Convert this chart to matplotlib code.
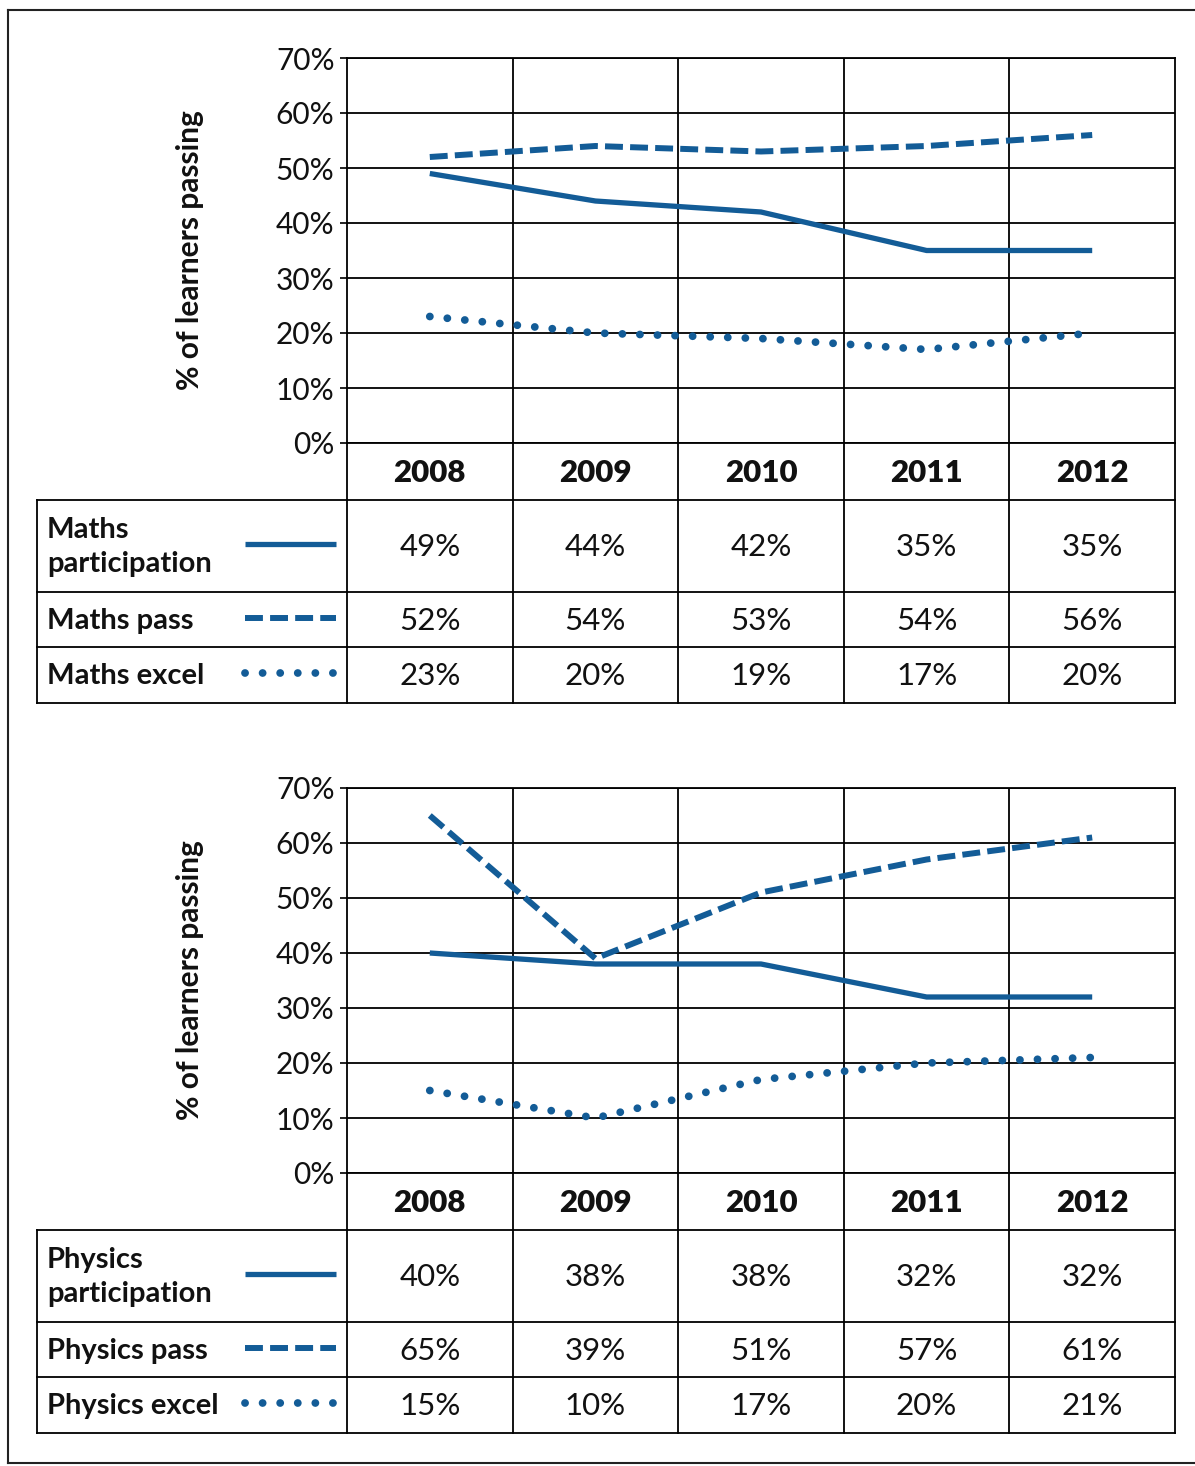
import matplotlib
matplotlib.use('Agg')
import matplotlib.pyplot as plt

# ---------------- data ----------------
years = ['2008', '2009', '2010', '2011', '2012']
y_ticks = [0, 10, 20, 30, 40, 50, 60, 70]

maths_labels = ['Maths\nparticipation', 'Maths pass', 'Maths excel']
maths_participation = [49, 44, 42, 35, 35]
maths_pass = [52, 54, 53, 54, 56]
maths_excel = [23, 20, 19, 17, 20]

physics_labels = ['Physics\nparticipation', 'Physics pass', 'Physics excel']
physics_participation = [40, 38, 38, 32, 32]
physics_pass = [65, 39, 51, 57, 61]
physics_excel = [15, 10, 17, 20, 21]

y_label = '% of learners passing'

# ---------------- style ----------------
W, H = 1195, 1466
BLUE = '#135c97'
FONT = ['Lato', 'DejaVu Sans']
plt.rcParams['font.family'] = FONT
GRID_LW = 1.3
TXT = '#111111'

styles = [
    dict(linestyle='-', linewidth=3.8, solid_capstyle='butt'),
    dict(linestyle=(0, (3.0, 1.2)), linewidth=4.3, dash_capstyle='butt'),
    dict(linestyle=(0, (0.01, 2.25)), linewidth=5.6, dash_capstyle='round'),
]

fig = plt.figure(figsize=(W / 100, H / 100), dpi=100)
fig.patch.set_facecolor('white')

ov = fig.add_axes([0, 0, 1, 1])
ov.set_xlim(0, W)
ov.set_ylim(H, 0)
ov.axis('off')
ov.set_zorder(0)

# outer frame
ov.plot([8, 8], [10, 1463], color='#222222', lw=1.5)
ov.plot([8, W], [10, 10], color='#222222', lw=1.5)
ov.plot([8, W], [1463, 1463], color='#222222', lw=1.5)

PL, PR = 347, 1175
ncol = len(years)
cw = (PR - PL) / ncol
col_edges = [PL + i * cw for i in range(ncol + 1)]
col_centers = [PL + (i + 0.5) * cw for i in range(ncol)]
TABLE_L = 37
LEG_X0, LEG_X1 = 245, 336


def panel(plot_top, plot_bottom, row_bounds, labels, series):
    ax = fig.add_axes([PL / W, 1 - plot_bottom / H, (PR - PL) / W,
                       (plot_bottom - plot_top) / H])
    ax.set_zorder(1)
    ax.patch.set_alpha(0)
    x = list(range(ncol))
    for s, st in zip(series, styles):
        ax.plot(x, s, color=BLUE, **st)
    ax.set_xlim(-0.5, ncol - 0.5)
    ax.set_ylim(y_ticks[0], y_ticks[-1])
    ax.set_yticks(y_ticks)
    ax.set_yticklabels([f'{v}%' for v in y_ticks])
    ax.set_xticks([])
    ax.set_xticks([i + 0.5 for i in range(ncol - 1)], minor=True)
    ax.tick_params(axis='x', which='minor', length=0)
    ax.tick_params(axis='y', length=5, width=GRID_LW, labelsize=21.5, pad=4,
                   colors=TXT)
    ax.grid(axis='y', which='major', color='black', lw=GRID_LW)
    ax.grid(axis='x', which='minor', color='black', lw=GRID_LW)
    for sp in ax.spines.values():
        sp.set_color('black')
        sp.set_linewidth(GRID_LW)
    ax.set_ylabel(y_label, fontsize=21.5, fontweight='bold', color=TXT)
    ax.yaxis.set_label_coords(-0.173, 0.5)

    # table
    header_bottom = row_bounds[0]
    tb = row_bounds[-1]
    for yb in row_bounds:
        ov.plot([TABLE_L, PR], [yb, yb], color='black', lw=GRID_LW)
    ov.plot([TABLE_L, TABLE_L], [header_bottom, tb], color='black', lw=GRID_LW)
    for xe in col_edges:
        ov.plot([xe, xe], [plot_bottom, tb], color='black', lw=GRID_LW)
    for xc, yr in zip(col_centers, years):
        ov.text(xc, (plot_bottom + header_bottom) / 2 + 2, yr, ha='center',
                va='center', fontsize=22.5, fontweight='heavy', color=TXT)
    for r, (lab, s, st) in enumerate(zip(labels, series, styles)):
        y0, y1 = row_bounds[r], row_bounds[r + 1]
        yc = (y0 + y1) / 2
        ov.text(47, yc + 1, lab, ha='left', va='center', fontsize=21,
                fontweight='bold', color=TXT, linespacing=1.4)
        ov.plot([LEG_X0, LEG_X1], [yc - 2, yc - 2], color=BLUE, **st)
        for xc, v in zip(col_centers, s):
            ov.text(xc, yc + 1, f'{v}%', ha='center', va='center',
                    fontsize=22.5, color=TXT)


panel(58, 443, [500, 592, 647, 703], maths_labels,
      [maths_participation, maths_pass, maths_excel])
panel(788, 1173, [1230, 1322, 1377, 1433], physics_labels,
      [physics_participation, physics_pass, physics_excel])

fig.savefig('out.png', dpi=100, facecolor='white')
